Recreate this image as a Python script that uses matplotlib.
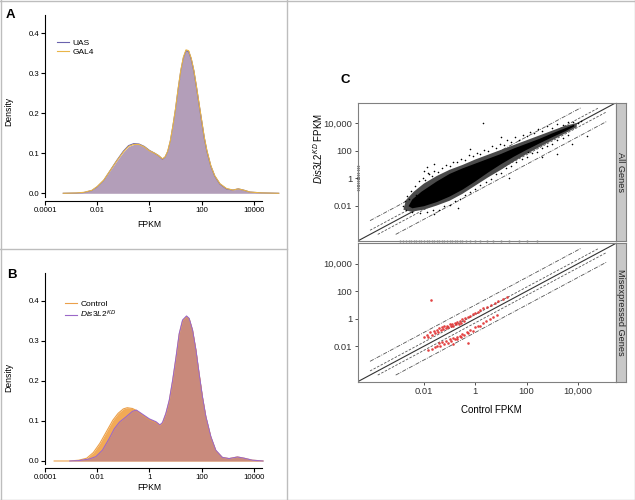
import matplotlib
matplotlib.use("Agg")
import matplotlib.pyplot as plt
from matplotlib.lines import Line2D

plt.rcParams["font.family"] = ["Liberation Sans", "DejaVu Sans"]
plt.rcParams["mathtext.fontset"] = "custom"
plt.rcParams["mathtext.rm"] = "Liberation Sans"
plt.rcParams["mathtext.it"] = "Liberation Sans:italic"

# ---- data (x values are log10 FPKM) ----
FPKM_TICKS = [-4, -2, 0, 2, 4]
FPKM_LABELS = ["0.0001", "0.01", "1", "100", "10000"]
DENS_TICKS = [0.0, 0.1, 0.2, 0.3, 0.4]

A_X = [-3.3, -2.8, -2.5, -2.2, -2.0, -1.75, -1.5, -1.25, -1.0, -0.8, -0.6, -0.4,
       -0.2, 0.0, 0.2, 0.35, 0.5, 0.6, 0.7, 0.8, 0.9, 1.0, 1.1, 1.2, 1.3, 1.4,
       1.5, 1.6, 1.7, 1.8, 1.9, 2.0, 2.1, 2.2, 2.35, 2.5, 2.7, 2.95, 3.2, 3.4,
       3.6, 3.85, 4.3, 4.95]
A_UAS = [0, 0.0005, 0.002, 0.007, 0.016, 0.032, 0.057, 0.082, 0.105, 0.119, 0.124,
         0.123, 0.117, 0.107, 0.1, 0.094, 0.085, 0.09, 0.104, 0.13, 0.168, 0.21,
         0.26, 0.305, 0.338, 0.356, 0.354, 0.335, 0.305, 0.265, 0.222, 0.18,
         0.138, 0.105, 0.068, 0.043, 0.023, 0.011, 0.008, 0.011, 0.008, 0.003,
         0.001, 0]
A_GAL4 = [0, 0.0008, 0.0025, 0.0075, 0.017, 0.033, 0.057, 0.081, 0.103, 0.117,
          0.122, 0.122, 0.116, 0.106, 0.1, 0.094, 0.086, 0.091, 0.105, 0.131,
          0.169, 0.212, 0.262, 0.307, 0.34, 0.358, 0.356, 0.337, 0.307, 0.267,
          0.224, 0.182, 0.14, 0.107, 0.069, 0.044, 0.024, 0.012, 0.008, 0.011,
          0.008, 0.003, 0.001, 0]

B_CTRL_X = [-3.65, -3.05, -2.7, -2.4, -2.15, -1.9, -1.65, -1.4, -1.2, -1.0, -0.85,
            -0.65, -0.5, -0.25, 0.0, 0.25, 0.4, 0.5, 0.63, 0.76, 0.89, 1.02, 1.14,
            1.27, 1.42, 1.52, 1.65, 1.78, 1.9, 2.03, 2.16, 2.35, 2.54, 2.79, 3.05,
            3.37, 3.62, 3.94, 4.35]
B_CTRL = [0, 0, 0.002, 0.007, 0.021, 0.044, 0.073, 0.102, 0.119, 0.13, 0.133,
          0.131, 0.126, 0.114, 0.103, 0.096, 0.089, 0.094, 0.117, 0.15, 0.2,
          0.258, 0.316, 0.35, 0.36, 0.355, 0.326, 0.276, 0.218, 0.159, 0.11,
          0.06, 0.026, 0.009, 0.006, 0.01, 0.007, 0.002, 0.0]
B_KD_X = [-3.05, -2.7, -2.3, -2.05, -1.8, -1.55, -1.35, -1.15, -0.9, -0.65, -0.5,
          -0.25, 0.0, 0.25, 0.4, 0.5, 0.63, 0.76, 0.89, 1.02, 1.14, 1.27, 1.42,
          1.52, 1.65, 1.78, 1.9, 2.03, 2.16, 2.35, 2.54, 2.79, 3.05, 3.37, 3.62,
          3.94, 4.35]
B_KD = [0, 0.001, 0.005, 0.011, 0.027, 0.055, 0.08, 0.097, 0.11, 0.124, 0.127,
        0.116, 0.105, 0.098, 0.09, 0.096, 0.119, 0.152, 0.202, 0.26, 0.318, 0.352,
        0.362, 0.356, 0.327, 0.277, 0.219, 0.16, 0.111, 0.061, 0.027, 0.009,
        0.006, 0.01, 0.007, 0.002, 0.0]

# panel C (log10 control FPKM, log10 Dis3L2 KD FPKM)
C_TICKS = [-2, 0, 2, 4]
C_LABELS = ["0.01", "1", "100", "10,000"]
C_LIM = (-4.58, 5.48)
LINE_RANGE = (-4.1, 5.1)
FOLD_LINES = [(1.0, "dashdot"), (-1.0, "dashdot"), (0.301, "dash"), (-0.301, "dash")]

CORE_UPPER = [(-2.6, -2.05), (-2.45, -1.55), (-2.1, -1.0), (-1.5, -0.25), (-1.0, 0.3),
              (-0.5, 0.7), (0.0, 1.05), (0.5, 1.4), (1.0, 1.75), (1.5, 2.15),
              (2.0, 2.5), (2.5, 2.85), (3.0, 3.25), (3.5, 3.62), (3.85, 3.88)]
CORE_LOWER = [(3.85, 3.75), (3.5, 3.4), (3.0, 2.97), (2.5, 2.52), (2.0, 2.05),
              (1.5, 1.55), (1.0, 1.0), (0.5, 0.4), (0.0, -0.25), (-0.5, -0.85),
              (-1.0, -1.35), (-1.5, -1.75), (-2.0, -2.05), (-2.45, -2.2)]
FRINGE_UPPER = [(-2.8, -2.3), (-2.7, -1.6), (-2.4, -1.0), (-2.0, -0.4), (-1.5, 0.15),
                (-1.0, 0.6), (-0.5, 0.95), (0.0, 1.35), (0.5, 1.7), (1.0, 2.05),
                (1.5, 2.4), (2.0, 2.75), (2.5, 3.1), (3.0, 3.45), (3.5, 3.8), (3.95, 4.0)]
FRINGE_LOWER = [(3.95, 3.7), (3.5, 3.25), (3.0, 2.75), (2.5, 2.25), (2.0, 1.75),
                (1.5, 1.2), (1.0, 0.6), (0.5, 0.05), (0.0, -0.55), (-0.5, -1.15),
                (-1.0, -1.65), (-1.5, -2.0), (-2.0, -2.3), (-2.5, -2.45)]
HALO_PTS = [(-2.8, -2.0), (-2.75, -1.7), (-2.7, -2.35), (-2.65, -1.3), (-2.6, -1.55),
            (-2.5, -0.95), (-2.45, -2.5), (-2.35, -0.6), (-2.3, -1.2), (-2.2, -0.25),
            (-2.15, -2.55), (-2.05, 0.0), (-1.95, -0.15), (-1.9, -2.45), (-1.8, 0.3),
            (-1.7, 0.15), (-1.65, -2.35), (-1.6, 0.5), (-1.45, 0.45), (-1.4, -2.3),
            (-1.3, 0.7), (-1.2, -2.05), (-1.15, 0.95), (-1.0, 0.9), (-1.0, -1.95),
            (-0.85, 1.2), (-0.8, -1.65), (-0.7, 1.15), (-0.69, -2.15), (-0.6, -1.5),
            (-0.55, 1.4), (-0.4, 1.3), (-0.4, -1.25), (-0.25, 1.65), (-0.2, -1.0),
            (-0.1, 1.6), (0.0, -0.8), (0.05, 1.85), (0.2, 1.75), (0.2, -0.5),
            (0.35, 2.05), (0.4, -0.3), (0.5, 2.0), (0.6, -0.05), (0.65, 2.3),
            (0.8, 2.2), (0.8, 0.3), (0.95, 2.5), (1.0, 0.4), (1.1, 2.4), (1.2, 0.75),
            (1.25, 2.75), (1.3, 0.0), (1.4, 2.65), (1.4, 0.9), (1.55, 2.95),
            (1.6, 1.15), (1.7, 2.8), (1.8, 1.4), (1.85, 3.15), (2.0, 3.05), (2.0, 1.5),
            (2.07, 1.9), (2.15, 3.35), (2.2, 1.8), (2.3, 3.25), (2.4, 1.9),
            (2.45, 3.55), (2.6, 3.4), (2.6, 2.15), (2.6, 1.5), (2.8, 3.75), (2.8, 2.3),
            (3.0, 3.65), (3.0, 2.5), (3.18, 1.72), (3.2, 3.9), (3.2, 2.75), (3.4, 3.85),
            (3.4, 2.9), (3.6, 4.1), (3.6, 3.1), (3.77, 2.46), (3.8, 4.05), (4.0, 4.0),
            (4.1, 4.15), (4.36, 3.04), (-1.88, 0.82), (-2.0, 0.5), (-1.84, 0.34),
            (-1.6, 1.0), (0.31, 4.0), (-0.2, 2.1), (1.0, 3.0), (-1.6, -2.6)]
ZERO_CTRL_Y = [-0.9, -0.75, -0.6, -0.5, -0.35, -0.2, -0.1, 0.0, 0.1, 0.25, 0.4, 0.55, 0.7, 0.9]
ZERO_KD_X = [-2.95, -2.8, -2.7, -2.6, -2.5, -2.4, -2.3, -2.2, -2.1, -2.0, -1.9, -1.8,
             -1.7, -1.6, -1.5, -1.4, -1.3, -1.2, -1.1, -1.0, -0.9, -0.8, -0.7, -0.6,
             -0.5, -0.35, -0.2, 0.0, 0.2, 0.45, 0.7, 1.0, 1.3, 1.7, 2.0, 2.4]

UP_PTS = [(-2.0, -1.3), (-1.9, -1.15), (-1.85, -1.35), (-1.75, -1.0), (-1.7, -1.2),
          (-1.62, -0.9), (-1.55, -1.05), (-1.5, -0.8), (-1.45, -0.95), (-1.4, -0.7),
          (-1.35, -0.85), (-1.3, -0.6), (-1.25, -0.75), (-1.2, -0.55), (-1.15, -0.7),
          (-1.1, -0.5), (-1.05, -0.62), (-1.0, -0.42), (-0.95, -0.55), (-0.9, -0.35),
          (-0.85, -0.5), (-0.8, -0.3), (-0.75, -0.42), (-0.7, -0.22), (-0.65, -0.35),
          (-0.6, -0.15), (-0.55, -0.28), (-0.5, -0.05), (-0.45, -0.2), (-0.4, 0.05),
          (-0.3, 0.1), (-0.2, 0.2), (-0.1, 0.35), (0.0, 0.45), (0.1, 0.5), (0.2, 0.65),
          (0.3, 0.75), (0.45, 0.85), (0.6, 1.0), (0.75, 1.15), (0.9, 1.3),
          (1.09, 1.45), (1.25, 1.6), (-1.71, 1.36)]
DOWN_PTS = [(-1.83, -2.3), (-1.7, -2.2), (-1.57, -2.05), (-1.5, -1.95), (-1.4, -1.8),
            (-1.38, -1.95), (-1.3, -1.7), (-1.2, -1.85), (-1.15, -1.6), (-1.05, -1.75),
            (-1.0, -1.5), (-0.95, -1.6), (-0.86, -1.82), (-0.85, -1.4), (-0.8, -1.5),
            (-0.73, -1.33), (-0.7, -1.45), (-0.6, -1.25), (-0.55, -1.35), (-0.5, -1.1),
            (-0.45, -1.2), (-0.34, -0.95), (-0.28, -1.75), (-0.3, -1.05), (-0.2, -0.8),
            (-0.1, -0.9), (0.0, -0.6), (0.1, -0.5), (0.2, -0.55), (0.3, -0.3),
            (0.4, -0.2), (0.57, 0.0), (0.7, 0.12), (0.85, 0.3)]

W, H = 635, 500
fig = plt.figure(figsize=(W / 100, H / 100), dpi=100)


def box(left, top, right, bottom):
    return [left / W, 1 - bottom / H, (right - left) / W, (bottom - top) / H]


def style_density(ax, ybot, ytop, xlab_y, ylab_y):
    ax.set_xlim(-4, 5)
    ax.set_ylim(ybot, ytop)
    ax.patch.set_alpha(0)
    for s in ("top", "right"):
        ax.spines[s].set_visible(False)
    ax.spines["left"].set_bounds(ybot * 0.45, ytop)
    ax.spines["bottom"].set_bounds(-4, 4.3)
    ax.set_xticks(FPKM_TICKS)
    ax.set_xticklabels(FPKM_LABELS)
    ax.set_yticks(DENS_TICKS)
    ax.set_yticklabels([f"{v:.1f}" for v in DENS_TICKS])
    ax.tick_params(labelsize=5.6, length=3, width=0.8, pad=1.2)
    ax.set_xlabel("FPKM", fontsize=6.2)
    ax.set_ylabel("Density", fontsize=6.2)
    ax.xaxis.set_label_coords(4 / 9, xlab_y)
    ax.yaxis.set_label_coords(-0.136, ylab_y)


# ---- panel A ----
axA = fig.add_axes(box(45, 15, 280, 200.7))
axA.fill_between(A_X, A_GAL4, color="#b39eb9", lw=0)
uas, = axA.plot(A_X, A_UAS, color="#6a62ad", lw=0.8, label="UAS")
gal, = axA.plot(A_X, A_GAL4, color="#e9b548", lw=0.8, label="GAL4")
style_density(axA, -0.0185, 0.445, -0.104, 0.478)
axA.legend(handles=[uas, gal], loc="upper left", bbox_to_anchor=(0.05, 0.87),
           frameon=False, fontsize=6, handlelength=1.5, handletextpad=0.35,
           labelspacing=0.15, borderpad=0, borderaxespad=0)

# ---- panel B ----
axB = fig.add_axes(box(45, 272.7, 280, 468))
axB.fill_between(B_CTRL_X, B_CTRL, color="#f2aa55", lw=0)
axB.fill_between(B_KD_X, B_KD, color="#c98a7c", lw=0)
ctl, = axB.plot(B_CTRL_X, B_CTRL, color="#eba04a", lw=0.8, label="Control")
kd, = axB.plot(B_KD_X, B_KD, color="#9b68c8", lw=0.8,
               label=r"$\mathit{Dis3L2}^{\mathit{KD}}$")
style_density(axB, -0.0175, 0.47, -0.077, 0.466)
axB.legend(handles=[ctl, kd], loc="upper left", bbox_to_anchor=(0.085, 0.86),
           frameon=False, fontsize=6, handlelength=1.5, handletextpad=0.35,
           labelspacing=0.15, borderpad=0, borderaxespad=0)

# ---- panel C ----
dash_styles = {"dashdot": (0, (5, 1.5, 1, 1.5)), "dash": (0, (3, 1.8))}
facets = [(102.7, 241, "All Genes"), (243.3, 381.7, "Misexpressed Genes")]
for i, (top, bot, strip_text) in enumerate(facets):
    ax = fig.add_axes(box(357.7, top, 616, bot))
    ax.set_xlim(C_LIM)
    ax.set_ylim(C_LIM)
    # reference lines sit underneath the points
    ax.plot(C_LIM, C_LIM, color="#333333", lw=0.8, zorder=1)
    lo, hi = LINE_RANGE
    for off, style in FOLD_LINES:
        x0, x1 = max(lo, lo - off), min(hi, hi - off)
        ax.plot([x0, x1], [x0 + off, x1 + off], color="#555555", lw=0.6,
                linestyle=dash_styles[style], zorder=1)
    if i == 0:
        fringe = FRINGE_UPPER + FRINGE_LOWER
        core = CORE_UPPER + CORE_LOWER
        ax.fill([p[0] for p in fringe], [p[1] for p in fringe], color="#4a4a4a",
                lw=0, zorder=2)
        ax.fill([p[0] for p in core], [p[1] for p in core], color="black",
                lw=0, zorder=2.2)
        ax.scatter([p[0] for p in HALO_PTS], [p[1] for p in HALO_PTS], s=1.3,
                   color="black", lw=0, zorder=2.5)
        ax.scatter([C_LIM[0]] * len(ZERO_CTRL_Y), ZERO_CTRL_Y, s=2, color="black",
                   lw=0, clip_on=False)
        ax.scatter(ZERO_KD_X, [C_LIM[0]] * len(ZERO_KD_X), s=2.5, color="#8a8a8a",
                   lw=0, clip_on=False, zorder=5)
    else:
        pts = UP_PTS + DOWN_PTS
        ax.scatter([p[0] for p in pts], [p[1] for p in pts], s=3.5,
                   color="#e02f2f", lw=0, alpha=0.9, zorder=2)
    for s in ax.spines.values():
        s.set_color("#808080")
        s.set_linewidth(0.8)
    ax.set_yticks(C_TICKS)
    ax.set_yticklabels(C_LABELS)
    ax.set_xticks(C_TICKS)
    ax.set_xticklabels(C_LABELS)
    ax.tick_params(labelsize=6.8, length=2.5, width=0.6, color="#333333",
                   labelcolor="#333333", pad=1.5)
    if i == 0:
        ax.tick_params(axis="x", bottom=False, labelbottom=False)

    sax = fig.add_axes(box(616, top, 626, bot))
    sax.set_facecolor("#c8c8c8")
    sax.set_xticks([])
    sax.set_yticks([])
    for s in sax.spines.values():
        s.set_color("#808080")
        s.set_linewidth(0.8)
    sax.text(0.5, 0.5, strip_text, rotation=-90, ha="center", va="center",
             fontsize=6.6, color="#222222", transform=sax.transAxes)

fig.text(318 / W, 1 - 148 / H, r"$\mathit{Dis3L2}^{\mathit{KD}}$ FPKM", rotation=90,
         ha="center", va="center", fontsize=7)
fig.text(491 / W, 1 - 410 / H, "Control FPKM", ha="center", va="center", fontsize=7)

# ---- panel letters and divider lines ----
for letter, (x, y) in {"A": (10, 15), "B": (11.5, 275), "C": (345, 80)}.items():
    fig.text(x / W, 1 - y / H, letter, fontsize=9.5, fontweight="bold",
             ha="center", va="center")

border = "#bdbdbd"
for (x0, y0, x1, y1) in [(287, 0, 287, 500), (0, 249, 287, 249), (0.5, 0, 0.5, 500),
                         (634.5, 0, 634.5, 500), (0, 0.5, 635, 0.5), (0, 499.5, 635, 499.5)]:
    fig.add_artist(Line2D([x0 / W, x1 / W], [1 - y0 / H, 1 - y1 / H],
                          transform=fig.transFigure, color=border, lw=1))

fig.savefig("out.png", dpi=100)
